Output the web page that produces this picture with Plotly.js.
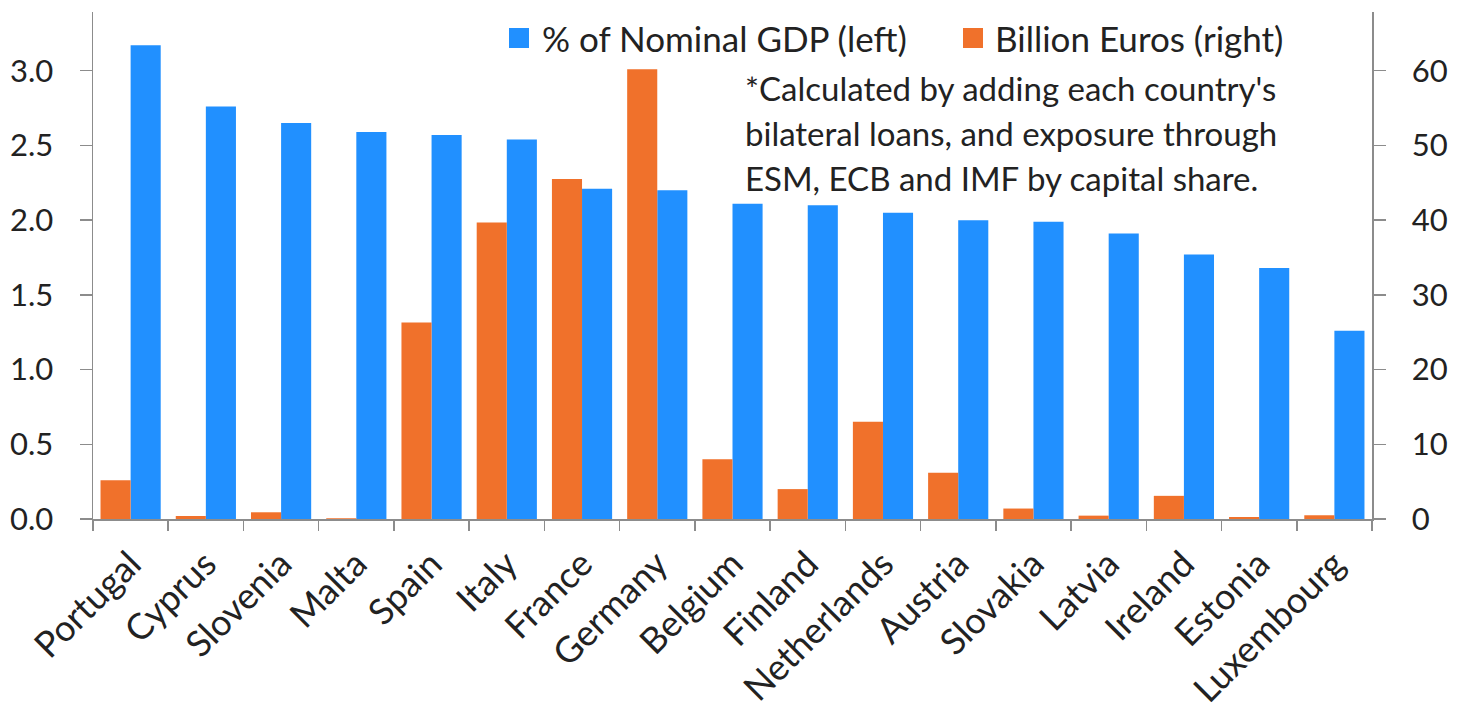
<!DOCTYPE html>
<html>
<head>
<meta charset="utf-8">
<script src="https://cdn.plot.ly/plotly-3.0.1.min.js"></script>
<style>html,body{margin:0;padding:0;background:#fff;}#chart{width:1463px;height:711px;}</style>
</head>
<body>
<div id="chart"></div>
<script>
const countries = ["Portugal","Cyprus","Slovenia","Malta","Spain","Italy","France","Germany","Belgium","Finland","Netherlands","Austria","Slovakia","Latvia","Ireland","Estonia","Luxembourg"];
const pctGDP = [3.17,2.76,2.65,2.59,2.57,2.54,2.21,2.20,2.11,2.10,2.05,2.00,1.99,1.91,1.77,1.68,1.26];
const billionEuros = [5.2,0.4,0.9,0.1,26.3,39.7,45.5,60.2,8.0,4.0,13.0,6.2,1.4,0.45,3.1,0.27,0.5];
const seriesNames = ["% of Nominal GDP (left)","Billion Euros (right)"];
const noteLines = ["*Calculated by adding each country's","bilateral loans, and exposure through","ESM, ECB and IMF by capital share."];

const BLUE = "#2190FF", ORANGE = "#F0712B", AX = "#8c8c8c", TXT = "#222222";
const FONT = "Lato, sans-serif";

const traces = [
  {type:"bar", name:seriesNames[1], x:countries, y:billionEuros, yaxis:"y2",
   marker:{color:ORANGE}, width:0.4, offset:-0.4, showlegend:false, hoverinfo:"x+y"},
  {type:"bar", name:seriesNames[0], x:countries, y:pctGDP, yaxis:"y",
   marker:{color:BLUE}, width:0.4, offset:0, showlegend:false, hoverinfo:"x+y"}
];

const annotations = [
  {xref:"paper", yref:"paper", x:(540-93)/1279, y:(519-38)/507, xanchor:"left", yanchor:"middle",
   text:seriesNames[0], showarrow:false, font:{family:FONT, size:35, color:TXT}},
  {xref:"paper", yref:"paper", x:(993-93)/1279, y:(519-38)/507, xanchor:"left", yanchor:"middle",
   text:seriesNames[1], showarrow:false, font:{family:FONT, size:35, color:TXT}}
];
noteLines.forEach((t,i)=>{
  annotations.push({xref:"paper", yref:"paper", x:(743-93)/1279, y:(519-(88+i*45))/507,
    xanchor:"left", yanchor:"middle", text:t, showarrow:false,
    font:{family:FONT, size:33, color:TXT}});
});

const shapes = [
  {type:"rect", xref:"paper", yref:"paper", x0:(509-93)/1279, x1:(529-93)/1279,
   y0:(519-48)/507, y1:(519-28)/507, fillcolor:BLUE, line:{width:0}},
  {type:"rect", xref:"paper", yref:"paper", x0:(963-93)/1279, x1:(983-93)/1279,
   y0:(519-48)/507, y1:(519-28)/507, fillcolor:ORANGE, line:{width:0}}
];

const layout = {
  width:1463, height:711,
  margin:{l:93, r:91, t:12, b:192},
  paper_bgcolor:"#fff", plot_bgcolor:"#fff",
  barmode:"overlay",
  font:{family:FONT, size:31, color:TXT},
  showlegend:false,
  xaxis:{type:"category", tickangle:-45, showline:true, linecolor:AX, linewidth:1.5,
    ticks:"outside", tickson:"boundaries", ticklen:10, tickcolor:AX, tickwidth:1.5,
    showgrid:false, zeroline:false, ticklabelstandoff:8, tickfont:{family:FONT, size:36, color:TXT}},
  yaxis:{range:[0,3.393], dtick:0.5, tick0:0, tickformat:".1f", showline:true, linecolor:AX, linewidth:1.5,
    ticks:"outside", ticklen:12, tickcolor:AX, tickwidth:1.5, showgrid:false, zeroline:false,
    ticklabelstandoff:20, tickfont:{family:FONT, size:31, color:TXT}},
  yaxis2:{range:[0,67.86], dtick:10, tick0:0, overlaying:"y", side:"right", showline:true,
    linecolor:AX, linewidth:1.5, ticks:"outside", ticklen:12, tickcolor:AX, tickwidth:1.5,
    showgrid:false, zeroline:false, ticklabelstandoff:20, tickfont:{family:FONT, size:31, color:TXT}},
  annotations:annotations,
  shapes:shapes
};

Plotly.newPlot("chart", traces, layout, {displayModeBar:false, staticPlot:true});
</script>
</body>
</html>
